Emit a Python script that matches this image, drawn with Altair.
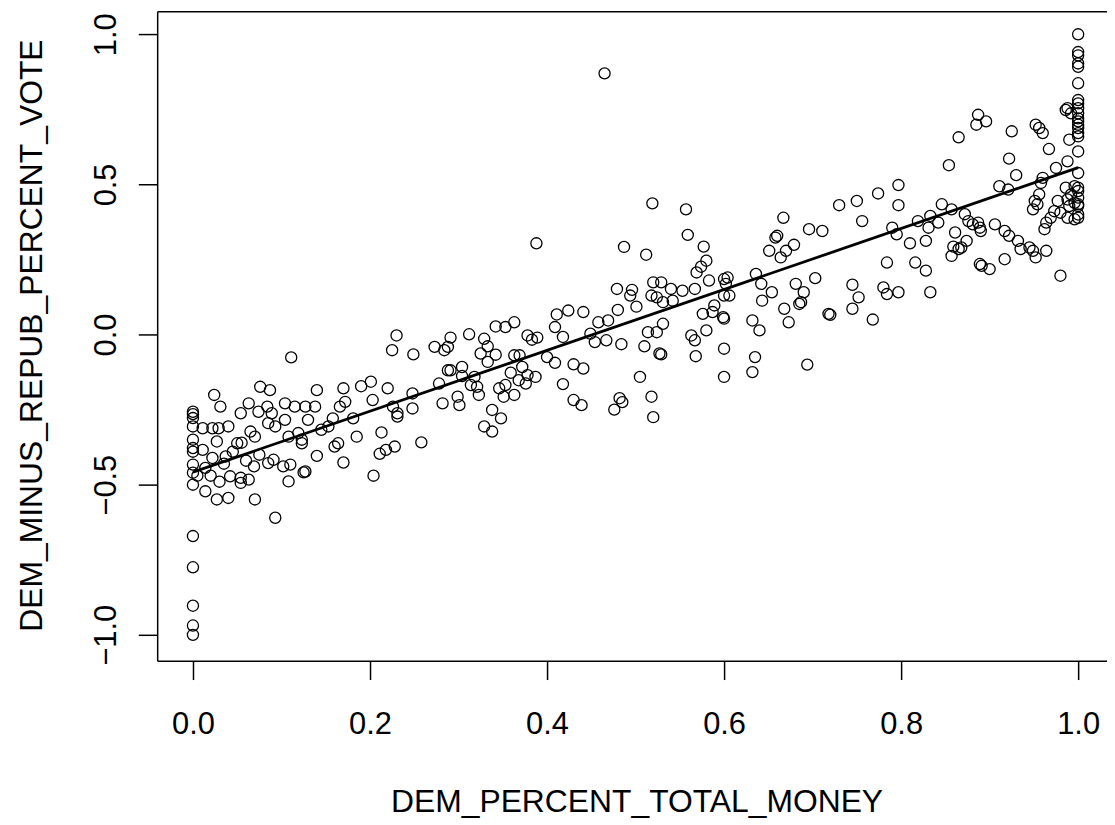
import altair as alt
import pandas as pd

# ---- data (DEM_PERCENT_TOTAL_MONEY, DEM_MINUS_REPUB_PERCENT_VOTE)
x_zero = [0.0] * 15
y_zero = [-0.257, -0.265, -0.278, -0.306, -0.35, -0.378, -0.39, -0.433, -0.46, -0.5,
          -0.671, -0.775, -0.903, -0.969, -1.0]

x_a = [0.076, 0.087, 0.024, 0.031, 0.011, 0.022, 0.029, 0.040, 0.063, 0.054, 0.074, 0.084,
       0.104, 0.115, 0.127, 0.065, 0.027, 0.050, 0.011, 0.022, 0.037, 0.014, 0.042, 0.054,
       0.063, 0.069, 0.014, 0.027, 0.040, 0.070, 0.054, 0.093, 0.108, 0.110, 0.102, 0.127,
       0.091, 0.085, 0.093, 0.085, 0.108, 0.119, 0.123, 0.104, 0.089, 0.045, 0.055, 0.07,
       0.06, 0.035, 0.075, 0.02, 0.005, 0.03, 0.111]
y_a = [-0.174, -0.185, -0.201, -0.240, -0.312, -0.312, -0.312, -0.306, -0.229, -0.262, -0.257,
       -0.240, -0.229, -0.240, -0.240, -0.323, -0.356, -0.362, -0.384, -0.411, -0.406, -0.444,
       -0.472, -0.477, -0.483, -0.439, -0.522, -0.549, -0.544, -0.549, -0.494, -0.610, -0.489,
       -0.433, -0.439, -0.456, -0.417, -0.428, -0.306, -0.295, -0.340, -0.328, -0.362, -0.284,
       -0.262, -0.39, -0.36, -0.34, -0.42, -0.43, -0.40, -0.47, -0.47, -0.49, -0.076]

x_b = [0.230, 0.225, 0.249, 0.273, 0.284, 0.288, 0.278, 0.282, 0.248, 0.248, 0.231, 0.226,
       0.220, 0.201, 0.190, 0.203, 0.170, 0.172, 0.166, 0.140, 0.138, 0.130, 0.158, 0.181,
       0.185, 0.164, 0.160, 0.170, 0.140, 0.125, 0.123, 0.213, 0.211, 0.218, 0.228, 0.204,
       0.258, 0.231, 0.145, 0.153]
y_b = [-0.003, -0.052, -0.066, -0.041, -0.052, -0.119, -0.163, -0.229, -0.196, -0.246, -0.262,
       -0.240, -0.179, -0.157, -0.172, -0.218, -0.179, -0.224, -0.240, -0.185, -0.240, -0.284,
       -0.279, -0.279, -0.340, -0.362, -0.373, -0.426, -0.404, -0.459, -0.350, -0.326, -0.397,
       -0.384, -0.373, -0.470, -0.359, -0.273, -0.317, -0.306]

x_c = [0.388, 0.411, 0.424, 0.441, 0.409, 0.418, 0.342, 0.353, 0.363, 0.312, 0.291, 0.288,
       0.329, 0.333, 0.325, 0.342, 0.333, 0.378, 0.383, 0.389, 0.363, 0.369, 0.400, 0.409,
       0.430, 0.441, 0.372, 0.378, 0.387, 0.359, 0.291, 0.304, 0.318, 0.304, 0.321, 0.323,
       0.314, 0.346, 0.351, 0.363, 0.353, 0.368, 0.376, 0.418, 0.430, 0.439, 0.299, 0.301,
       0.338, 0.348, 0.329, 0.338]
y_c = [0.304, 0.067, 0.080, 0.075, 0.025, -0.008, 0.027, 0.025, 0.041, 0.001, -0.010, -0.041,
       -0.014, -0.039, -0.063, -0.067, -0.091, -0.003, -0.017, -0.010, -0.069, -0.069, -0.075,
       -0.094, -0.099, -0.113, -0.108, -0.135, -0.141, -0.127, -0.119, -0.108, -0.141, -0.138,
       -0.174, -0.201, -0.168, -0.179, -0.207, -0.201, -0.168, -0.152, -0.163, -0.165, -0.218,
       -0.235, -0.207, -0.235, -0.251, -0.279, -0.306, -0.323]

x_d = [0.519, 0.557, 0.559, 0.487, 0.512, 0.577, 0.580, 0.574, 0.569, 0.583, 0.600, 0.520,
       0.529, 0.540, 0.553, 0.567, 0.479, 0.496, 0.494, 0.518, 0.524, 0.531, 0.542, 0.501,
       0.480, 0.458, 0.469, 0.449, 0.454, 0.467, 0.484, 0.531, 0.524, 0.514, 0.510, 0.527,
       0.529, 0.563, 0.567, 0.568, 0.580, 0.576, 0.587, 0.599, 0.589, 0.600, 0.505, 0.518,
       0.482, 0.600, 0.600, 0.476, 0.485, 0.520, 0.465]
y_d = [0.437, 0.417, 0.332, 0.292, 0.266, 0.293, 0.246, 0.226, 0.207, 0.180, 0.185, 0.174,
       0.174, 0.152, 0.146, 0.152, 0.152, 0.149, 0.130, 0.130, 0.124, 0.108, 0.113, 0.093,
       0.082, 0.041, 0.047, 0.003, -0.025, -0.019, -0.032, 0.036, 0.008, 0.008, -0.039, -0.063,
       -0.066, -0.003, -0.019, -0.072, 0.014, 0.069, 0.075, 0.058, 0.097, 0.130, -0.141, -0.207,
       -0.212, -0.047, -0.141, -0.250, -0.225, -0.275, 0.870]

x_e = [0.730, 0.750, 0.756, 0.667, 0.660, 0.658, 0.696, 0.711, 0.651, 0.670, 0.679, 0.664,
       0.636, 0.604, 0.602, 0.606, 0.642, 0.643, 0.654, 0.681, 0.690, 0.687, 0.685, 0.703,
       0.745, 0.752, 0.745, 0.668, 0.673, 0.632, 0.640, 0.718, 0.720, 0.600, 0.635, 0.632,
       0.694]
y_e = [0.431, 0.445, 0.378, 0.389, 0.329, 0.323, 0.351, 0.345, 0.279, 0.279, 0.299, 0.257,
       0.202, 0.190, 0.169, 0.130, 0.169, 0.113, 0.141, 0.169, 0.141, 0.108, 0.102, 0.188,
       0.166, 0.124, 0.086, 0.086, 0.041, 0.047, 0.014, 0.069, 0.066, 0.053, -0.075, -0.125,
       -0.100]

x_f = [0.887, 0.885, 0.865, 0.854, 0.797, 0.774, 0.797, 0.846, 0.857, 0.872, 0.876, 0.881,
       0.889, 0.819, 0.833, 0.831, 0.842, 0.790, 0.795, 0.810, 0.828, 0.861, 0.874, 0.868,
       0.859, 0.857, 0.865, 0.889, 0.784, 0.816, 0.828, 0.780, 0.784, 0.797, 0.833, 0.768]
y_f = [0.732, 0.699, 0.657, 0.564, 0.498, 0.470, 0.431, 0.434, 0.417, 0.401, 0.378, 0.367,
       0.356, 0.378, 0.395, 0.356, 0.373, 0.356, 0.334, 0.304, 0.312, 0.340, 0.312, 0.290,
       0.293, 0.262, 0.285, 0.235, 0.240, 0.240, 0.213, 0.157, 0.135, 0.141, 0.141, 0.050]

x_one = [1.0] * 22
y_one = [1.0, 0.941, 0.930, 0.903, 0.892, 0.837, 0.781, 0.770, 0.754, 0.737, 0.720, 0.710,
         0.699, 0.688, 0.671, 0.660, 0.610, 0.538, 0.489, 0.456, 0.434, 0.389]

x_g = [0.988, 0.992, 0.986, 0.990, 0.975, 0.988, 0.896, 0.925, 0.952, 0.956, 0.960, 0.967,
       0.922, 0.930, 0.960, 0.958, 0.911, 0.921, 0.986, 0.996, 1.0, 0.992, 0.988, 0.996,
       1.0, 0.990, 0.956, 0.951, 0.949, 0.954, 0.977, 0.973, 0.980, 0.969, 0.964, 0.962,
       0.988, 0.996, 1.0, 0.887, 0.890, 0.906, 0.917, 0.922, 0.932, 0.935, 0.945, 0.952,
       0.964, 0.949, 0.891, 0.900, 0.917, 0.980]
y_g = [0.754, 0.737, 0.748, 0.649, 0.555, 0.577, 0.710, 0.677, 0.699, 0.688, 0.671, 0.618,
       0.586, 0.531, 0.522, 0.505, 0.494, 0.483, 0.489, 0.494, 0.478, 0.467, 0.450, 0.439,
       0.428, 0.428, 0.467, 0.445, 0.417, 0.434, 0.445, 0.411, 0.406, 0.389, 0.373, 0.351,
       0.389, 0.384, 0.400, 0.373, 0.345, 0.367, 0.345, 0.329, 0.312, 0.285, 0.290, 0.257,
       0.279, 0.279, 0.229, 0.218, 0.251, 0.196]

# fitted regression line end points (as drawn)
fit_x = [0.0, 1.0]
fit_y = [-0.458, 0.556]

x_ticks = [0.0, 0.2, 0.4, 0.6, 0.8, 1.0]
y_ticks = [-1.0, -0.5, 0.0, 0.5, 1.0]

xs = x_zero + x_a + x_b + x_c + x_d + x_e + x_f + x_one + x_g
ys = y_zero + y_a + y_b + y_c + y_d + y_e + y_f + y_one + y_g
pts = pd.DataFrame({"x": xs, "y": ys})
fit = pd.DataFrame({"x": fit_x, "y": fit_y})

FONT = "Liberation Sans"
xscale = alt.Scale(domain=[-0.0404, 1.0326], nice=False, zero=False)
yscale = alt.Scale(domain=[-1.086, 1.077], nice=False, zero=False)

x_axis = alt.Axis(
    values=x_ticks, format=".1f", orient="bottom", grid=False,
    domainColor="black", domainWidth=1.5, tickColor="black", tickWidth=1.5, tickSize=19,
    labelFont=FONT, labelFontSize=31, labelColor="black", labelPadding=54,
    labelBaseline="alphabetic", labelFlush=False, labelOverlap=False,
    title="DEM_PERCENT_TOTAL_MONEY", titleFont=FONT, titleFontSize=32,
    titleFontWeight="normal", titleColor="black", titleBaseline="alphabetic",
    titleY=152, titleX=482,
)
y_axis = alt.Axis(
    values=y_ticks, format=".1f", orient="left", grid=False,
    domainColor="black", domainWidth=1.5, tickColor="black", tickWidth=1.5, tickSize=19,
    labelFont=FONT, labelFontSize=31, labelColor="black", labelPadding=23,
    labelAngle=270, labelAlign="center", labelBaseline="alphabetic",
    labelFlush=False, labelOverlap=False,
    title="DEM_MINUS_REPUB_PERCENT_VOTE", titleFont=FONT, titleFontSize=32,
    titleFontWeight="normal", titleColor="black", titleAngle=270,
    titleAlign="center", titleBaseline="alphabetic", titleX=-116, titleY=325.6,
)
top_axis = alt.Axis(orient="top", labels=False, ticks=False, grid=False, domain=True,
                    domainColor="black", domainWidth=1.5, title=None)

points = alt.Chart(pts).mark_point(
    shape="circle", filled=False, color="black", size=125, strokeWidth=1.3, opacity=1
).encode(
    x=alt.X("x:Q", scale=xscale, axis=x_axis),
    y=alt.Y("y:Q", scale=yscale, axis=y_axis),
)

line = alt.Chart(fit).mark_line(color="black", strokeWidth=2.8).encode(
    x=alt.X("x:Q", scale=xscale, axis=top_axis),
    y=alt.Y("y:Q", scale=yscale, axis=None),
)

chart = alt.layer(points, line).resolve_axis(x="independent", y="independent").properties(
    width=955, height=653,
    autosize=alt.AutoSizeParams(type="none"),
    padding={"left": 150, "top": 1, "right": 0, "bottom": 160},
    background="white",
).configure_view(stroke=None)

chart.save("out.html", embed_options={"renderer": "svg", "actions": False})
